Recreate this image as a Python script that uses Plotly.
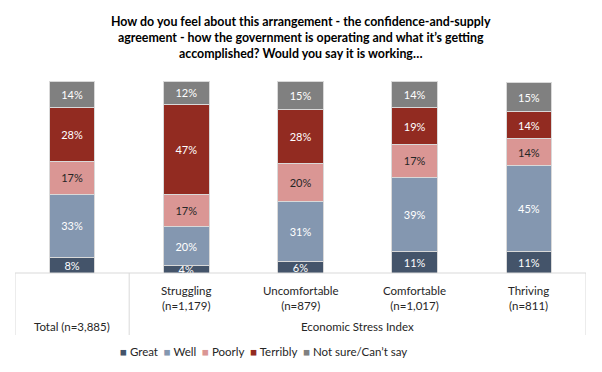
import plotly.graph_objects as go

categories = ["Total (n=3,885)", "Struggling<br>(n=1,179)", "Uncomfortable<br>(n=879)",
              "Comfortable<br>(n=1,017)", "Thriving<br>(n=811)"]
series_names = ["Great", "Well", "Poorly", "Terribly", "Not sure/Can\u2019t say"]
great = [8, 4, 6, 11, 11]
well = [33, 20, 31, 39, 45]
poorly = [17, 17, 20, 17, 14]
terribly = [28, 47, 28, 19, 14]
not_sure = [14, 12, 15, 14, 15]
group_label = "Economic Stress Index"
title_text = ("How do you feel about this arrangement - the confidence-and-supply<br>"
              "agreement - how the government is operating and what it\u2019s getting<br>"
              "accomplished? Would you say it is working\u2026")

colors = ["#44546A", "#8497B0", "#DA9694", "#922B21", "#808080"]
text_colors = ["white", "white", "#262626", "white", "white"]
values = [great, well, poorly, terribly, not_sure]

FONT = "Lato, Carlito, Calibri, sans-serif"
xs = list(range(len(categories)))

fig = go.Figure()
for name, vals, col, tcol in zip(series_names, values, colors, text_colors):
    fig.add_trace(go.Bar(
        x=xs, y=vals, name=name,
        marker=dict(color=col, line=dict(color="#D9D9D9", width=1)),
        text=[f"{v}%" for v in vals], textposition="inside",
        insidetextanchor="middle", textangle=0,
        textfont=dict(color=tcol, size=11, family=FONT),
        width=0.4, cliponaxis=False, showlegend=False,
    ))

# table-like grid lines under the axis
line_style = dict(color="#D9D9D9", width=1)
fig.add_shape(type="line", xref="x", yref="paper", x0=-0.5, x1=4.5, y0=0, y1=0, line=line_style)
for xv in [-0.5, 0.5, 4.5]:
    fig.add_shape(type="line", xref="x", yref="paper", x0=xv, x1=xv, y0=0, y1=-0.323, line=line_style)

lab_font = dict(size=11.5, family=FONT, color="#262626")
for i, c in enumerate(categories):
    yv = -0.28 if i == 0 else -0.13
    fig.add_annotation(x=i, y=yv, xref="x", yref="paper", text=c, showarrow=False,
                       font=lab_font, yanchor="middle")
fig.add_annotation(x=2.5, y=-0.28, xref="x", yref="paper", text=group_label, showarrow=False,
                   font=lab_font, yanchor="middle")

# title
fig.add_annotation(x=0.5, y=1.224, xref="paper", yref="paper", text="<b>" + title_text + "</b>",
                   showarrow=False, yanchor="middle", xanchor="center",
                   font=dict(size=12.4, family=FONT, color="#000000"))

# legend built as text
legend_parts = [f"<span style='color:{c}'>\u25A0</span> {n}" for n, c in zip(series_names, colors)]
fig.add_annotation(x=(263 - 15) / 571, y=-0.41, xref="paper", yref="paper",
                   text="\u2002".join(legend_parts), showarrow=False,
                   xanchor="center", yanchor="middle",
                   font=dict(size=11.5, family=FONT, color="#262626"))

fig.update_layout(
    barmode="stack",
    width=602, height=372,
    margin=dict(l=15, r=16, t=81, b=99),
    paper_bgcolor="white", plot_bgcolor="white",
    xaxis=dict(range=[-0.5, 4.5], showticklabels=False, showgrid=False, zeroline=False,
               showline=False, ticks=""),
    yaxis=dict(range=[0, 100], showticklabels=False, showgrid=False, zeroline=False,
               showline=False),
    showlegend=False,
    uniformtext=dict(minsize=11, mode="show"),
)

fig.write_html("out.html", config={"displayModeBar": False},
               post_script="document.body.style.margin='0';")
